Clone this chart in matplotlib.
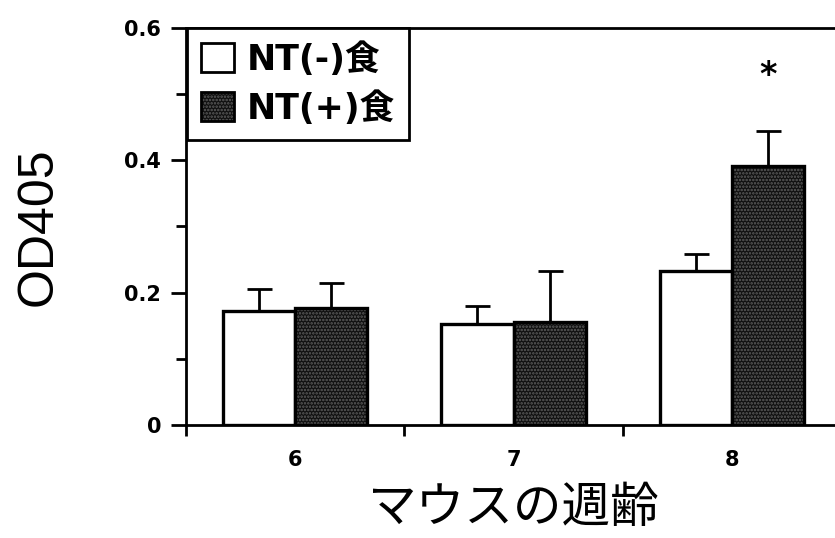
import numpy as np
import matplotlib.pyplot as plt
from matplotlib.patches import Patch
from matplotlib.ticker import MultipleLocator, FixedLocator

# mean OD405 and SD per age group
weeks = ['6', '7', '8']
nt_minus = [0.173, 0.152, 0.232]
nt_minus_sd = [0.032, 0.028, 0.026]
nt_plus = [0.177, 0.156, 0.392]
nt_plus_sd = [0.038, 0.077, 0.053]
labels = ['NT(-)食', 'NT(+)食']
star_y = 0.528

font_num = ['DejaVu Sans']
font_jp = ['DejaVu Sans', 'Noto Sans CJK JP']

fig = plt.figure(figsize=(8.35, 5.38), dpi=100)
ax = fig.add_axes([186 / 835, 1 - 425 / 538, 655 / 835, 397 / 538])

x = np.arange(len(weeks))
w = 0.33
err_kw = dict(ecolor='black', elinewidth=2, capsize=9, capthick=2)

ax.bar(x - w / 2, nt_minus, w, color='white', edgecolor='black', linewidth=2.4,
       yerr=[np.zeros(3), nt_minus_sd], error_kw=err_kw, zorder=2)

plt.rcParams['hatch.linewidth'] = 1.2
# stippled dark fill: dark base + light dotted hatch + black outline
ax.bar(x + w / 2, nt_plus, w, color='#101010', edgecolor='#5e5e5e', hatch='.....',
       linewidth=0, yerr=[np.zeros(3), nt_plus_sd], error_kw=err_kw, zorder=2)
ax.bar(x + w / 2, nt_plus, w, fill=False, edgecolor='black', linewidth=2.4, zorder=3)

ax.text(2 + w / 2, star_y, '*', ha='center', va='center', fontsize=24,
        fontweight='bold', family=font_num)

ax.set_xlim(-0.5, 2.5)
ax.set_ylim(0, 0.6)

ax.set_xticks(x)
ax.set_xticklabels(weeks)
ax.xaxis.set_minor_locator(FixedLocator([-0.5, 0.5, 1.5, 2.5]))
ax.tick_params(axis='x', which='major', length=0, pad=18)
ax.tick_params(axis='x', which='minor', length=8, width=2, direction='out')

ax.set_yticks([0, 0.2, 0.4, 0.6])
ax.set_yticklabels(['0', '0.2', '0.4', '0.6'])
ax.yaxis.set_minor_locator(MultipleLocator(0.1))
ax.tick_params(axis='y', which='major', length=11, width=2, pad=7)
ax.tick_params(axis='y', which='minor', length=7, width=2)

for lab in ax.get_xticklabels() + ax.get_yticklabels():
    lab.set_family(font_num)
    lab.set_fontweight('bold')
    lab.set_fontsize(15)

for side in ['left', 'bottom', 'top']:
    ax.spines[side].set_linewidth(2)
ax.spines['right'].set_visible(False)

ax.set_ylabel('OD405', family=['Liberation Sans'], fontsize=36, labelpad=45)
ax.set_xlabel('マウスの週齢', family=['Noto Sans CJK JP'], fontsize=35, labelpad=10)

h1 = Patch(facecolor='white', edgecolor='black', linewidth=2)
h2a = Patch(facecolor='#101010', edgecolor='#5e5e5e', hatch='.....', linewidth=0)
h2b = Patch(fill=False, edgecolor='black', linewidth=2)
leg = ax.legend([h1, (h2a, h2b)], labels, loc='upper left', bbox_to_anchor=(0.002, 1.0),
                borderaxespad=0, fancybox=False, edgecolor='black', framealpha=1,
                handlelength=0.95, handleheight=0.9, handletextpad=0.35,
                labelspacing=0.42, borderpad=0.4,
                prop=dict(family=font_jp, weight='bold', size=25))
leg.get_frame().set_linewidth(2)

fig.savefig('out.png', dpi=100)
